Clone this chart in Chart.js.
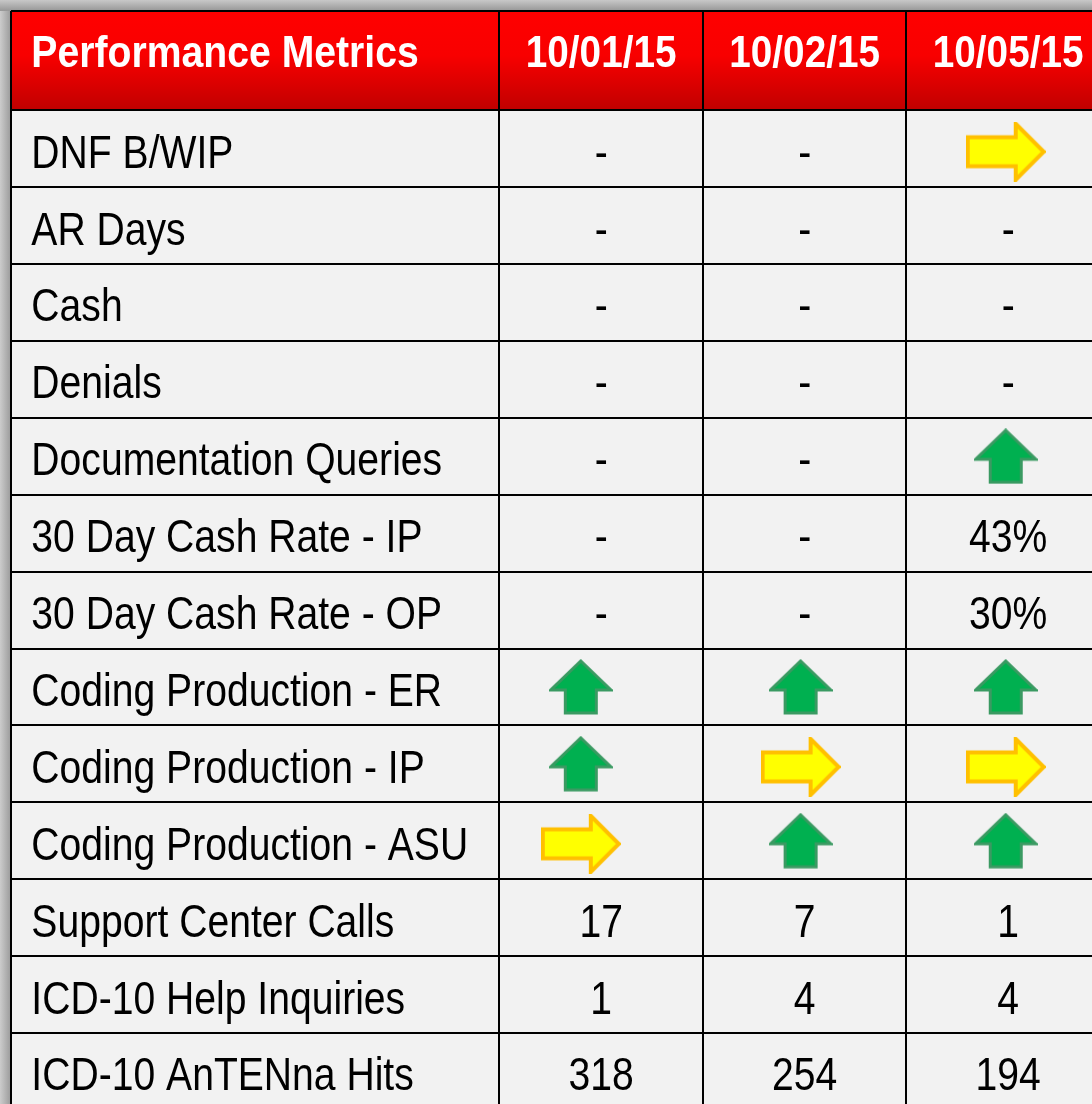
<!DOCTYPE html>
<html>
<head>
<meta charset="utf-8">
<script src="https://cdn.jsdelivr.net/npm/chart.js@4/dist/chart.umd.min.js"></script>
<style>
  html, body { margin: 0; padding: 0; background: #fff; }
  #wrap { width: 1092px; height: 1104px; }
</style>
</head>
<body>
<div id="wrap"><canvas id="myChart"></canvas></div>
<script>
const title = 'Performance Metrics';
const dates = ['10/01/15', '10/02/15', '10/05/15'];
const metrics = [
  'DNF B/WIP', 'AR Days', 'Cash', 'Denials', 'Documentation Queries',
  '30 Day Cash Rate - IP', '30 Day Cash Rate - OP', 'Coding Production - ER',
  'Coding Production - IP', 'Coding Production - ASU', 'Support Center Calls',
  'ICD-10 Help Inquiries', 'ICD-10 AnTENna Hits'
];
const oct01 = ['-', '-', '-', '-', '-', '-', '-', 'up', 'up', 'right', '17', '1', '318'];
const oct02 = ['-', '-', '-', '-', '-', '-', '-', 'up', 'right', 'up', '7', '4', '254'];
const oct05 = ['right', '-', '-', '-', 'up', '43%', '30%', 'up', 'right', 'up', '1', '4', '194'];
const columns = [oct01, oct02, oct05];

// layout (in axis units: one date column = 1 on x, one row = 1 on y)
const firstColW = 2.4;
const headerH = 1.29;
const colPx = 203.5;
const rowPx = 76.9;
const padL = 11, padT = 11;
const xMax = (1092 - padL) / colPx;
const yMax = (1104 - padT) / rowPx;
const arrowShift = [-0.1, -0.02, -0.012]; // icons sit a bit left of the cell centre

const colCenter = j => firstColW + j + 0.5;
const rowCenter = i => headerH + i + 0.5;

// arrow images used as point styles
function upArrow() {
  const c = document.createElement('canvas');
  c.width = 64; c.height = 56;
  const g = c.getContext('2d');
  g.beginPath();
  g.moveTo(32, 2);
  g.lineTo(62, 31);
  g.lineTo(47.5, 31);
  g.lineTo(47.5, 54);
  g.lineTo(16.5, 54);
  g.lineTo(16.5, 31);
  g.lineTo(2, 31);
  g.closePath();
  g.fillStyle = '#00b050';
  g.fill();
  g.lineWidth = 3;
  g.strokeStyle = '#3a9a62';
  g.stroke();
  return c;
}

function rightArrow() {
  const c = document.createElement('canvas');
  c.width = 80; c.height = 60;
  const g = c.getContext('2d');
  g.beginPath();
  g.moveTo(2, 15.5);
  g.lineTo(50, 15.5);
  g.lineTo(50, 2);
  g.lineTo(78, 30);
  g.lineTo(50, 58);
  g.lineTo(50, 44.5);
  g.lineTo(2, 44.5);
  g.closePath();
  g.fillStyle = '#ffff00';
  g.fill();
  g.lineWidth = 4;
  g.strokeStyle = '#ffc000';
  g.lineJoin = 'miter';
  g.stroke();
  return c;
}

const upPts = [];
const rightPts = [];
columns.forEach((col, j) => {
  col.forEach((v, i) => {
    const p = { x: colCenter(j) + arrowShift[j], y: rowCenter(i) };
    if (v === 'up') upPts.push(p);
    if (v === 'right') rightPts.push({ x: p.x, y: p.y + 0.04 });
  });
});

function drawText(ctx, text, x, y, align, sx) {
  ctx.save();
  ctx.translate(x, y);
  ctx.scale(sx, 1);
  ctx.textAlign = align;
  ctx.textBaseline = 'alphabetic';
  ctx.fillText(text, 0, 0);
  ctx.restore();
}

const tablePlugin = {
  id: 'table',
  beforeDraw(chart) {
    const ctx = chart.ctx;
    const { left, top, right, bottom } = chart.chartArea;
    const y = chart.scales.y;
    ctx.save();
    ctx.fillStyle = '#ffffff';
    ctx.fillRect(0, 0, chart.width, chart.height);
    // shadow strips
    let g = ctx.createLinearGradient(0, 0, 0, top);
    g.addColorStop(0, '#c8c8c8');
    g.addColorStop(1, '#969696');
    ctx.fillStyle = g;
    ctx.fillRect(0, 0, chart.width, top);
    g = ctx.createLinearGradient(0, 0, left, 0);
    g.addColorStop(0, '#cccccc');
    g.addColorStop(1, '#9a9a9a');
    ctx.fillStyle = g;
    ctx.fillRect(0, top, left, chart.height - top);
    // body
    ctx.fillStyle = '#f2f2f2';
    ctx.fillRect(left, top, right - left, bottom - top);
    // header
    const hb = y.getPixelForValue(headerH);
    g = ctx.createLinearGradient(0, top, 0, hb);
    g.addColorStop(0, '#ff0000');
    g.addColorStop(0.45, '#f80000');
    g.addColorStop(1, '#c00000');
    ctx.fillStyle = g;
    ctx.fillRect(left, top, right - left, hb - top);
    ctx.restore();
  },
  afterDraw(chart) {
    const ctx = chart.ctx;
    const x = chart.scales.x, y = chart.scales.y;
    ctx.save();
    // header texts
    ctx.fillStyle = '#ffffff';
    ctx.font = 'bold 44px "Liberation Sans", Arial, sans-serif';
    const hy = y.getPixelForValue(headerH / 2) + 6;
    drawText(ctx, title, x.getPixelForValue(0.1), hy, 'left', 0.89);
    dates.forEach((d, j) => drawText(ctx, d, x.getPixelForValue(colCenter(j)), hy, 'center', 0.88));
    // body texts
    ctx.fillStyle = '#000000';
    ctx.font = '46px "Liberation Sans", Arial, sans-serif';
    metrics.forEach((m, i) => {
      const by = y.getPixelForValue(rowCenter(i)) + 19;
      drawText(ctx, m, x.getPixelForValue(0.1), by, 'left', 0.85);
      columns.forEach((col, j) => {
        const v = col[i];
        if (v === 'up' || v === 'right') return;
        drawText(ctx, v, x.getPixelForValue(colCenter(j)), by, 'center', 0.85);
      });
    });
    ctx.restore();
  }
};

const xEdges = [0, firstColW, firstColW + 1, firstColW + 2];
const yEdges = [0];
for (let i = 0; i <= metrics.length; i++) {
  if (headerH + i <= yMax) yEdges.push(headerH + i);
}

const ctx = document.getElementById('myChart');
new Chart(ctx, {
  type: 'scatter',
  data: {
    datasets: [
      { label: 'up', data: upPts, pointStyle: upArrow(), pointRadius: 30 },
      { label: 'right', data: rightPts, pointStyle: rightArrow(), pointRadius: 30 }
    ]
  },
  options: {
    responsive: true,
    maintainAspectRatio: false,
    animation: false,
    layout: { autoPadding: false, padding: { left: padL, top: padT, right: 0, bottom: 0 } },
    plugins: { legend: { display: false }, tooltip: { enabled: false } },
    scales: {
      x: {
        type: 'linear', min: 0, max: xMax,
        ticks: { display: false },
        border: { display: false },
        grid: { color: '#000000', lineWidth: 2, drawTicks: false },
        afterBuildTicks: s => { s.ticks = xEdges.map(v => ({ value: v })); }
      },
      y: {
        type: 'linear', min: 0, max: yMax, reverse: true,
        ticks: { display: false },
        border: { display: false },
        grid: { color: '#000000', lineWidth: 2, drawTicks: false },
        afterBuildTicks: s => { s.ticks = yEdges.map(v => ({ value: v })); }
      }
    }
  },
  plugins: [tablePlugin]
});
</script>
</body>
</html>
